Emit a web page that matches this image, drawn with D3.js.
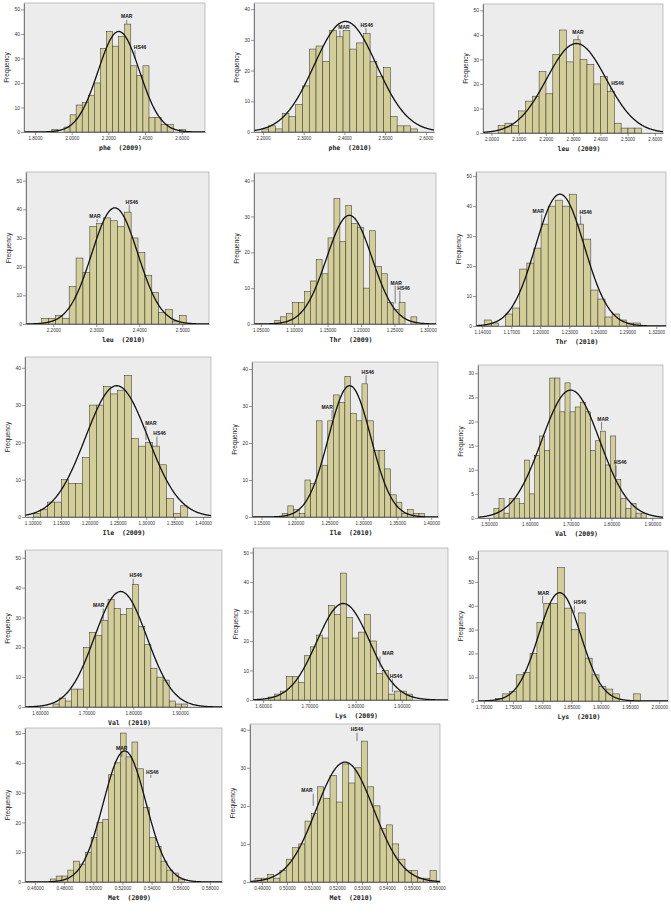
<!DOCTYPE html>
<html><head><meta charset="utf-8">
<script src="https://cdn.jsdelivr.net/npm/d3@7"></script>
<style>body{margin:0;background:#fff}svg{display:block}</style>
</head><body><svg id="c" width="671" height="918"></svg>
<script>
// ---------------- DATA ----------------
const panelTitles = ["phe  (2009)","phe  (2010)","leu  (2009)","leu  (2010)","Thr  (2009)","Thr  (2010)",
  "Ile  (2009)","Ile  (2010)","Val  (2009)","Val  (2010)","Lys  (2009)","Lys  (2010)","Met  (2009)","Met  (2010)"];

const phe2009Counts = [1,0,2,7,11,12,15,20,34,41,35,39,44,27,23,27,6,6,3,3,0,1];
const phe2010Counts = [1,2,1,6,5,9,15,27,28,23,33,31,33,27,29,32,23,18,21,5,2,2,1];
const leu2009Counts = [3,4,3,9,13,15,25,16,32,42,29,38,30,28,20,23,17,4,2,2,2];
const leu2010Counts = [2,2,3,2,13,23,18,34,35,37,36,34,39,30,25,17,11,4,5,1,3];
const thr2009Counts = [1,2,3,6,6,9,12,18,14,24,35,23,33,28,27,10,26,16,14,6,4,6,0,2];
const thr2010Counts = [2,1,0,4,6,19,21,26,34,40,42,40,44,34,29,12,9,3,4,2,1,1];
const ile2009Counts = [1,2,4,4,10,9,9,16,30,30,35,33,34,38,21,19,20,19,14,5,1,3];
const ile2010Counts = [1,3,2,1,10,9,26,14,26,33,31,38,28,26,36,26,18,18,13,6,4,1,2,1,1];
const val2009Counts = [2,4,1,4,4,3,12,5,13,17,14,29,29,22,28,22,23,24,22,14,16,18,11,17,8,4,2,3,1,1];
const val2010Counts = [1,3,2,6,6,20,25,24,29,36,33,31,33,41,27,21,13,10,9,2,1,1];
const lys2009Counts = [1,2,3,8,8,6,15,18,22,21,32,29,43,28,21,23,29,20,9,10,2,3,3,2];
const lys2010Counts = [1,3,4,11,12,20,33,41,41,56,39,30,37,18,11,6,5,3,0,0,3];
const met2009Counts = [1,2,2,4,7,6,10,15,20,21,36,40,50,42,47,38,25,15,12,7,4,3,1];
const met2010Counts = [1,1,2,1,3,6,9,10,16,18,25,22,28,21,31,26,30,37,25,20,14,15,10,6,3,3,1,1,3];

const panelCounts = [phe2009Counts,phe2010Counts,leu2009Counts,leu2010Counts,thr2009Counts,thr2010Counts,
  ile2009Counts,ile2010Counts,val2009Counts,val2010Counts,lys2009Counts,lys2010Counts,met2009Counts,met2010Counts];

const binStarts = [1.892,2.1975,2.0245,2.173,1.071,1.142,1.1012,1.1804,1.512,1.628,1.611,1.72,0.4705,0.4872];
const binWidths = [0.0331,0.0166,0.0251,0.016,0.00885,0.00735,0.01235,0.0084,0.01243,0.0131,0.013,0.0118,0.0040,0.0025];

const xDomains = [[1.74,2.727],[2.178,2.62],[1.969,2.630],[2.1366,2.562],[1.04,1.312],[1.1335,1.33],
  [1.0865,1.414],[1.136,1.41],[1.473,1.926],[1.568,1.99],[1.578,2.0],[1.69,2.015],[0.4531,0.5883],[0.4852,0.5612]];

const xTickValues = [
  [1.8,2.0,2.2,2.4,2.6],[2.2,2.3,2.4,2.5,2.6],[2.0,2.1,2.2,2.3,2.4,2.5,2.6],[2.2,2.3,2.4,2.5],
  [1.05,1.10,1.15,1.20,1.25,1.30],[1.14,1.17,1.20,1.23,1.26,1.29,1.32],
  [1.10,1.15,1.20,1.25,1.30,1.35,1.40],[1.15,1.20,1.25,1.30,1.35,1.40],[1.5,1.6,1.7,1.8,1.9],
  [1.6,1.7,1.8,1.9],[1.6,1.7,1.8,1.9],[1.70,1.75,1.80,1.85,1.90,1.95,2.00],
  [0.46,0.48,0.50,0.52,0.54,0.56,0.58],[0.49,0.50,0.51,0.52,0.53,0.54,0.55,0.56]];
const xTickDecimals = [4,4,4,4,5,5,5,5,5,5,5,5,5,5];

const yMaxes = [52.6,42,52.6,53,42.1,51.4,42.9,41.9,31.7,52.6,51.5,63,51.7,41.5];
const yTickSteps = [10,10,10,10,10,10,10,10,5,10,10,10,10,10];

// normal fit: mean, sd, peak frequency
const fitMeans = [2.257,2.4025,2.312,2.343,1.1825,1.2203,1.248,1.2799,1.70,1.773,1.7734,1.8297,0.5215,0.5232];
const fitSDs   = [0.113,0.0765,0.109,0.0535,0.034,0.0252,0.055,0.0312,0.071,0.056,0.0572,0.0362,0.0146,0.0115];
const fitPeaks = [41,36,36.5,40.5,30.3,44,35.2,35.5,26.5,38.7,32.7,45.5,44,31.5];

// annotations: [lineX, labelX, labelCount, lineEndCount]
const marNotes = [[2.300,2.300,47,44],[2.389,2.399,34.1,31],[2.318,2.318,41.1,38],[2.302,2.297,37.6,35.5],
  [1.251,1.2525,11.5,5.7],[1.2014,1.1979,38.3,34],[1.2994,1.3082,25.2,20.6],[1.2539,1.2466,29.8,26.5],
  [1.7755,1.779,20.5,18.3],[1.7355,1.726,34,29],[1.8527,1.870,15.8,11],[1.8005,1.8021,45.4,41],
  [0.5195,0.5195,45,42],[0.5105,0.508,24,20]];
const hs46Notes = [[2.345,2.373,34.5,30],[2.453,2.4549,34.8,32],[2.437,2.4627,20.2,17],[2.3766,2.3826,42.6,39],
  [1.258,1.2635,10.1,6],[1.2417,1.2469,37.9,34],[1.3188,1.3235,22.4,19],[1.3041,1.3066,39.2,36],
  [1.811,1.8216,11.5,8.5],[1.7998,1.8054,44,41],[1.8797,1.8873,8.1,2.7],[1.8549,1.8647,41.3,37],
  [0.5395,0.5405,37,35],[0.5280,0.5280,40,37]];

// ---------------- LAYOUT ----------------
const panelBoxes = [[24,3,205,132],[254,3,434,132],[483,4,663,133],
  [26,172,209,324],[254,173,436,324],[476,172,666,326],
  [25,357,211,517],[252,362,438,517],[478,365,663,518],
  [25,550,222,707],[253,548,448,700],[478,551,668,701],
  [25,728,222,882],[250,724,440,882]];

const FONT = "'Liberation Sans', Arial, sans-serif";
const svg = d3.select("#c");
const titleLayer = [];

panelCounts.forEach((counts, i) => {
  const b = panelBoxes[i];
  const g = svg.append("g");
  const x = d3.scaleLinear().domain(xDomains[i]).range([b[0], b[2]]);
  const y = d3.scaleLinear().domain([0, yMaxes[i]]).range([b[3], b[1]]);
  const clipId = "clip" + i;
  svg.append("clipPath").attr("id", clipId).append("rect")
    .attr("x", b[0]).attr("y", b[1]).attr("width", b[2]-b[0]).attr("height", b[3]-b[1]);

  g.append("rect").attr("x", b[0]).attr("y", b[1]).attr("width", b[2]-b[0]).attr("height", b[3]-b[1])
    .attr("fill", "#ececec").attr("stroke", "#a8a8a8").attr("stroke-width", 0.7);

  const bw = binWidths[i], s0 = binStarts[i];
  g.append("g").selectAll("rect").data(counts.map((c,k)=>({c,k})).filter(d=>d.c>0)).join("rect")
    .attr("x", d => x(s0 + d.k*bw)).attr("width", d => x(s0+(d.k+1)*bw) - x(s0+d.k*bw))
    .attr("y", d => y(d.c)).attr("height", d => y(0) - y(d.c))
    .attr("fill", "#d3cd98").attr("stroke", "#3a3a3a").attr("stroke-width", 0.55);

  const m = fitMeans[i], sd = fitSDs[i], pk = fitPeaks[i];
  const xs = d3.range(xDomains[i][0], xDomains[i][1], (xDomains[i][1]-xDomains[i][0])/300).concat([xDomains[i][1]]);
  const line = d3.line().x(v => x(v)).y(v => y(pk*Math.exp(-0.5*((v-m)/sd)**2))).curve(d3.curveBasis);
  g.append("path").datum(xs).attr("d", line).attr("fill", "none").attr("stroke", "#111")
    .attr("stroke-width", 1.3).attr("clip-path", `url(#${clipId})`);

  // axes
  const yt = d3.range(0, yMaxes[i] + 1e-9, yTickSteps[i]);
  const ya = g.append("g").attr("transform", `translate(${b[0]},0)`)
    .call(d3.axisLeft(y).tickValues(yt).tickSize(3).tickSizeOuter(0).tickFormat(d3.format("d")));
  ya.select(".domain").attr("stroke", "#555").attr("stroke-width", 0.7);
  ya.selectAll(".tick line").attr("stroke", "#555").attr("stroke-width", 0.6);
  ya.selectAll("text").attr("font-size", 5).attr("font-family", FONT).attr("fill", "#333").attr("x", -4);

  const xa = g.append("g").attr("transform", `translate(0,${b[3]})`)
    .call(d3.axisBottom(x).tickValues(xTickValues[i]).tickSize(3).tickSizeOuter(0)
      .tickFormat(d3.format("." + xTickDecimals[i] + "f")));
  xa.select(".domain").attr("stroke", "#555").attr("stroke-width", 0.7);
  xa.selectAll(".tick line").attr("stroke", "#555").attr("stroke-width", 0.6);
  xa.selectAll("text").attr("font-size", 4.6).attr("font-family", FONT).attr("fill", "#333").attr("y", 4.5);

  g.append("text").attr("transform", `translate(${b[0]-15},${(b[1]+b[3])/2}) rotate(-90)`)
    .attr("text-anchor", "middle").attr("font-size", 6.5).attr("font-family", FONT).attr("fill", "#222")
    .text("Frequency");

  // annotations
  [[marNotes[i], "MAR"], [hs46Notes[i], "HS46"]].forEach(([a, name]) => {
    const lx = x(a[1]), ly = y(a[2]);
    g.append("text").attr("x", lx).attr("y", ly).attr("text-anchor", "middle").attr("dy", "0.35em")
      .attr("font-size", 5).attr("font-weight", "bold").attr("font-family", FONT).attr("fill", "#111").text(name);
    g.append("line").attr("x1", x(a[0])).attr("x2", x(a[0])).attr("y1", ly + 3).attr("y2", y(a[3]))
      .attr("stroke", "#333").attr("stroke-width", 0.6);
  });
  titleLayer.push([(b[0]+b[2])/2 + 6, b[3] + 18, panelTitles[i]]);
});

// titles drawn on top
svg.append("g").selectAll("text").data(titleLayer).join("text")
  .attr("x", d => d[0]).attr("y", d => d[1]).attr("text-anchor", "middle")
  .attr("font-size", 6.5).attr("font-weight", "bold").attr("font-family", "'DejaVu Sans Mono', monospace")
  .attr("fill", "#222").style("white-space", "pre").text(d => d[2]);
</script></body></html>
